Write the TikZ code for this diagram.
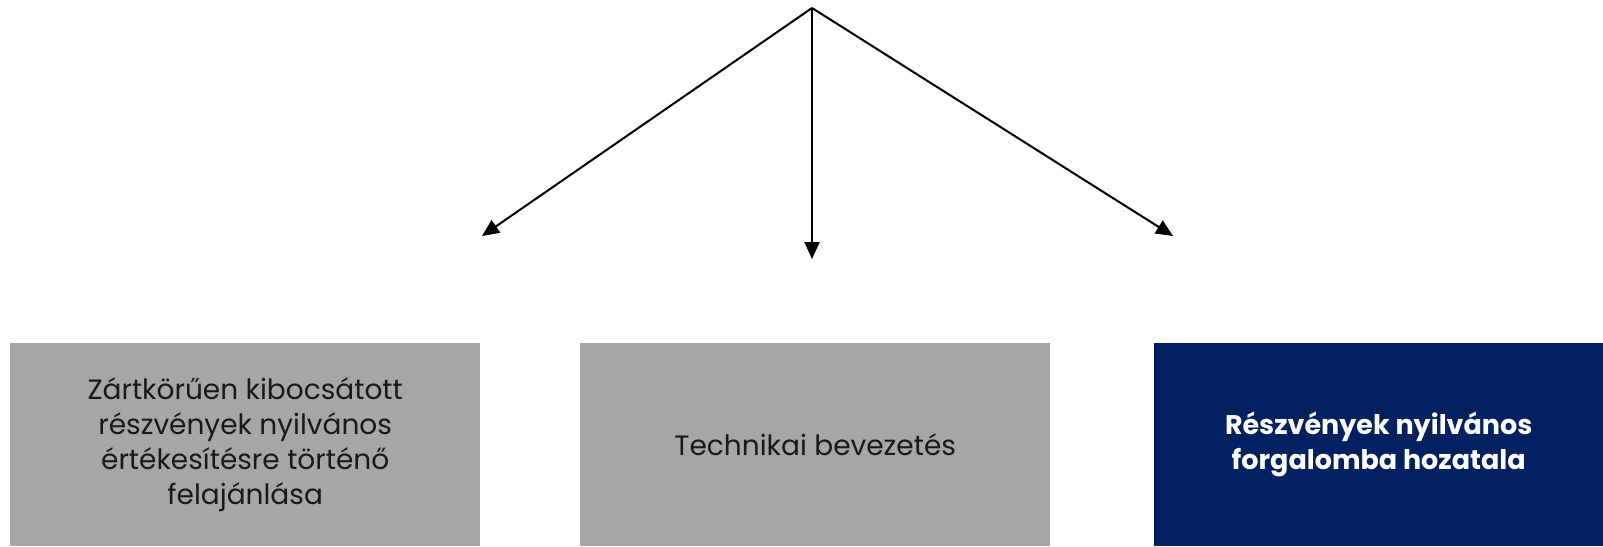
\documentclass[tikz,border=0pt]{standalone}
\usepackage{fontspec}
\setmainfont{Poppins}
\usetikzlibrary{arrows.meta}
\definecolor{boxgray}{HTML}{A6A6A6}
\definecolor{navy}{HTML}{002060}
\begin{document}
\begin{tikzpicture}[x=1pt,y=-1pt,
  card/.style={draw=none,minimum width=470pt,minimum height=203pt,align=center,
    inner sep=0pt,font=\fontsize{28}{35}\selectfont},
  graycard/.style={card,fill=boxgray,text=black!90},
  navycard/.style={card,fill=navy,text=white,font=\fontsize{27}{35}\selectfont\bfseries},
  branch/.style={line width=2pt,-{Triangle[length=17pt,width=15pt]}}]
\useasboundingbox (0,0) rectangle (1603,546);
% three outcome cards
\node[graycard,anchor=north west] (offer) at (10,343)
  {Zártkörűen kibocsátott\\részvények nyilvános\\értékesítésre történő\\felajánlása};
\node[graycard,anchor=north west] (tech) at (580,343) {Technikai bevezetés};
\node[navycard,anchor=north west,minimum width=449pt] (public) at (1154,343)
  {Részvények nyilvános\\forgalomba hozatala};
% fan of arrows from a common apex
\coordinate (apex) at (812,8);
\coordinate (leftend) at (482,236);
\coordinate (midend) at (812,259);
\coordinate (rightend) at (1173,236);
\draw[branch] (apex) -- (leftend);
\draw[branch] (apex) -- (midend);
\draw[branch] (apex) -- (rightend);
\end{tikzpicture}
\end{document}
